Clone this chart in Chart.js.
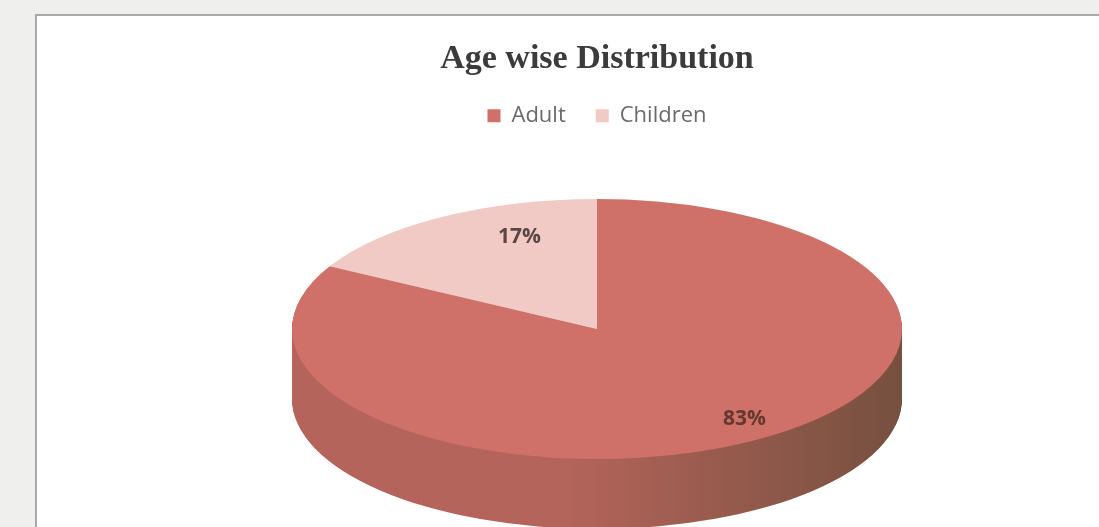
<!DOCTYPE html>
<html>
<head>
<meta charset="utf-8">
<script src="https://cdn.jsdelivr.net/npm/chart.js@4.4.1/dist/chart.umd.min.js"></script>
<style>
    html, body { margin: 0; padding: 0; background: #efefed; overflow: hidden; }
    #frame {
        position: absolute; left: 35px; top: 14px; width: 1100px; height: 540px;
        background: #fff; border-left: 2px solid #a9a9a9; border-top: 2px solid #a9a9a9;
    }
    #chartBox { position: absolute; left: 0; top: 0; width: 1120px; height: 513px; }
</style>
</head>
<body>
<div id="frame"><div id="chartBox"><canvas id="ageChart"></canvas></div></div>
<script>
const categories = ["Adult", "Children"];
const shares = [83, 17];
const shareLabels = ["83%", "17%"];

const topColors = ["#cf7168", "#f1cac6"];
const sideDark = ["#76503f", "#a08a86"];
const sideLight = ["#b4645a", "#c9a19c"];

// ellipse geometry of the tilted pie (canvas coords)
const CX = 560, CY = 313, RX = 305, RY = 130, DEPTH = 70;
// label placement, fraction of the radius along x and y
const LABEL_FX = [0.95, 0.5];
const LABEL_FY = [0.8, 0.82];

const pie3d = {
    id: "pie3d",
    beforeDatasetsDraw(chart) {
        const arcs = chart.getDatasetMeta(0).data;
        if (!arcs.length) return;
        const ctx = chart.ctx;
        const R = arcs[0].outerRadius;
        const sx = RX / R, sy = RY / R;

        // side walls
        for (let d = DEPTH; d > 0; d--) {
            arcs.forEach((arc, i) => {
                ctx.save();
                ctx.translate(CX, CY + d);
                ctx.scale(sx, sy);
                const g = ctx.createLinearGradient(-R, 0, R, 0);
                g.addColorStop(0, sideLight[i]);
                g.addColorStop(0.45, sideLight[i]);
                g.addColorStop(1, sideDark[i]);
                ctx.beginPath();
                ctx.moveTo(0, 0);
                ctx.arc(0, 0, R, arc.startAngle, arc.endAngle);
                ctx.closePath();
                ctx.fillStyle = g;
                ctx.fill();
                ctx.restore();
            });
        }

        // squash the real arcs into the top face
        ctx.save();
        ctx.translate(CX, CY);
        ctx.scale(sx, sy);
        ctx.translate(-arcs[0].x, -arcs[0].y);
    },
    afterDatasetsDraw(chart) {
        const arcs = chart.getDatasetMeta(0).data;
        if (!arcs.length) return;
        const ctx = chart.ctx;
        ctx.restore();

        ctx.save();
        ctx.font = "bold 21px 'Open Sans'";
        ctx.textAlign = "center";
        ctx.textBaseline = "middle";
        arcs.forEach((arc, i) => {
            const mid = (arc.startAngle + arc.endAngle) / 2;
            const x = CX + Math.cos(mid) * RX * LABEL_FX[i];
            const y = CY + Math.sin(mid) * RY * LABEL_FY[i];
            ctx.fillStyle = i === 0 ? "#63392f" : "#5a4744";
            ctx.fillText(shareLabels[i], x, y);
        });
        ctx.restore();
    }
};

new Chart(document.getElementById("ageChart"), {
    type: "pie",
    data: {
        labels: categories,
        datasets: [
            {
                data: shares,
                backgroundColor: topColors,
                borderWidth: 0,
            },
        ],
    },
    options: {
        responsive: true,
        maintainAspectRatio: false,
        animation: false,
        events: [],
        plugins: {
            title: {
                display: true,
                text: "Age wise Distribution",
                color: "#3b3b3b",
                font: { family: "'Liberation Serif'", size: 34, weight: "bold" },
                padding: { top: 23, bottom: -5 },
            },
            legend: {
                position: "top",
                labels: {
                    color: "#6a6a6a",
                    font: { family: "'Open Sans'", size: 22 },
                    boxWidth: 13,
                    boxHeight: 13,
                    padding: 30,
                },
            },
            tooltip: { enabled: false },
        },
    },
    plugins: [pie3d],
});
</script>
</body>
</html>
